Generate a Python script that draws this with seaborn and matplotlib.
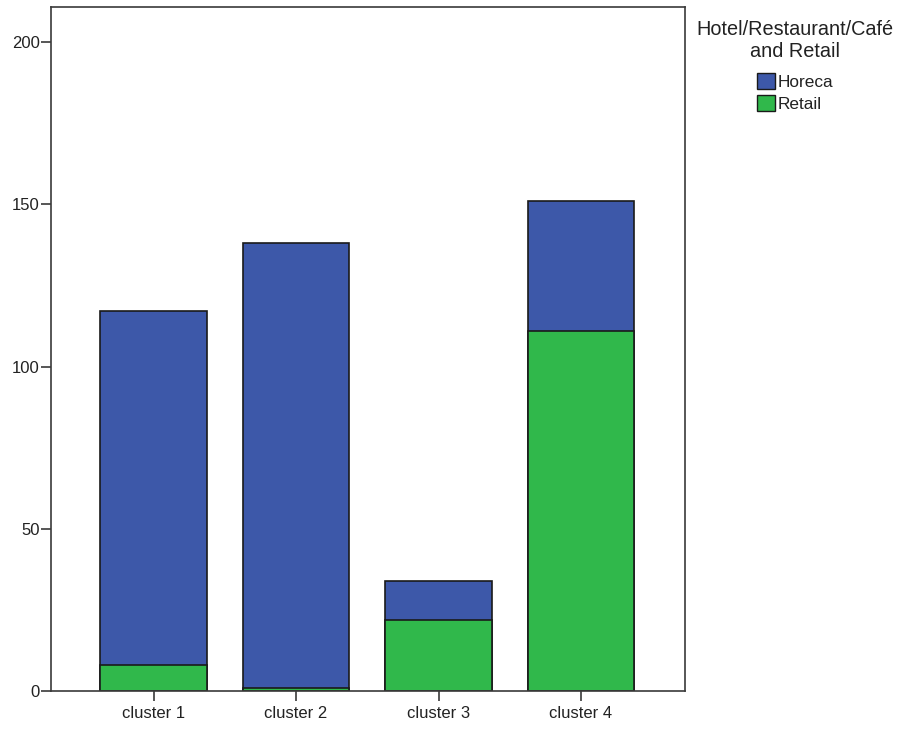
import matplotlib
matplotlib.use("Agg")
import matplotlib.pyplot as plt
import seaborn as sns
import pandas as pd
from matplotlib.patches import Patch

clusters = ["cluster 1", "cluster 2", "cluster 3", "cluster 4"]
retail = [8, 1, 22, 111]
horeca = [109, 137, 12, 40]
yticks = [0, 50, 100, 150, 200]

BLUE = "#3D58A9"
GREEN = "#30B84B"

sns.set_theme(style="white")
plt.rcParams["font.family"] = ["Liberation Sans", "DejaVu Sans"]

df = pd.DataFrame({"cluster": clusters, "retail": retail, "horeca": horeca})
df["total"] = df["retail"] + df["horeca"]

fig = plt.figure(figsize=(9.13, 7.37), dpi=100)
ax = fig.add_axes([51 / 913, 46 / 737, 634 / 913, 684 / 737])

sns.barplot(data=df, x="cluster", y="total", color=BLUE, saturation=1,
            width=0.75, edgecolor="#1a1a1a", linewidth=1.2, ax=ax)
sns.barplot(data=df, x="cluster", y="retail", color=GREEN, saturation=1,
            width=0.75, edgecolor="#1a1a1a", linewidth=1.2, ax=ax)

ax.set_xlim(-0.72, 3.73)
ax.set_ylim(0, 210.8)
ax.set_yticks(yticks)
ax.set_xlabel("")
ax.set_ylabel("")
for s in ax.spines.values():
    s.set_color("#3a3a3a")
    s.set_linewidth(1.2)
ax.tick_params(axis="both", which="both", direction="out", length=7, width=1.2,
               color="#3a3a3a", labelsize=12, labelcolor="#222222", left=True, bottom=True)
ax.tick_params(axis="y", pad=1)
ax.tick_params(axis="x", pad=4)

handles = [Patch(facecolor=BLUE, edgecolor="#1a1a1a", label="Horeca"),
           Patch(facecolor=GREEN, edgecolor="#1a1a1a", label="Retail")]
leg = fig.legend(handles=handles, title="Hotel/Restaurant/Café\nand Retail",
                 loc="upper center", bbox_to_anchor=(795 / 913, 1 - 6 / 737),
                 frameon=False, fontsize=12.4, title_fontsize=14.3,
                 handlelength=1.05, handleheight=1.05, handletextpad=0.15,
                 labelspacing=0.28, borderpad=0.3)
leg.get_title().set_multialignment("center")
leg.get_title().set_color("#222222")
leg._legend_box.sep = 9
for t in leg.get_texts():
    t.set_color("#222222")

fig.savefig("out.png", dpi=100)
